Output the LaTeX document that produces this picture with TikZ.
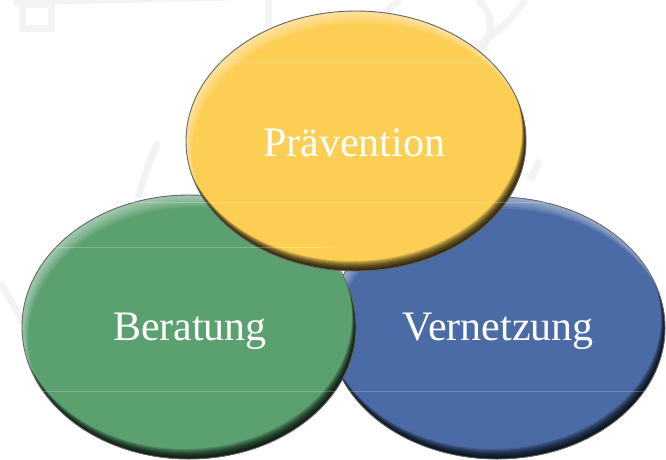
\documentclass[tikz,border=0pt]{standalone}
\usepackage{fontspec}
\setmainfont{Liberation Serif}
\usetikzlibrary{shapes.geometric}
\definecolor{ylw}{RGB}{252,207,84}
\definecolor{grn}{RGB}{91,160,111}
\definecolor{blu}{RGB}{74,107,165}
\definecolor{wm}{RGB}{243,243,243}
\tikzset{
  bubble/.style n args={3}{ellipse, inner sep=0pt, outer sep=0pt,
    minimum width=2*#2, minimum height=2*#3, fill=#1,
    draw=black!60, line width=0.9pt,
    path picture={
      \foreach \s in {1,2,...,10}{
        \fill[black,opacity=0.15,even odd rule]
          (path picture bounding box.south west) rectangle (path picture bounding box.north east)
          ([shift={(-0.4*\s,-\s)}]path picture bounding box.center) ellipse [x radius=#2, y radius=#3];
      }
      \foreach \s in {2,4,...,12}{
        \fill[white,opacity=0.09,even odd rule]
          (path picture bounding box.south west) rectangle (path picture bounding box.north east)
          ([shift={(0.5*\s,\s)}]path picture bounding box.center) ellipse [x radius=#2, y radius=#3];
      }
    }},
  label text/.style={text=white, font=\fontsize{42}{50}\selectfont, anchor=base, inner sep=0pt},
  watermark/.style={draw=wm, line width=7pt},
  sheen/.style={draw=white, opacity=0.22, line width=0.8pt}
}
\begin{document}
\begin{tikzpicture}[x=1pt,y=-1pt]
  \clip (0,0) rectangle (666,459);
  \useasboundingbox (0,0) rectangle (666,459);
  % faint watermark
  \draw[watermark] (14,2) -- (230,-3);
  \draw[watermark] (22,4) rectangle (51,28);
  \draw[watermark] (268,-5) -- (268,26);
  \draw[watermark] (400,0) -- (365,28);
  \draw[watermark] (478,0) .. controls (500,20) and (490,45) .. (470,60);
  \draw[watermark] (525,0) .. controls (505,30) and (480,45) .. (462,52);
  \draw[watermark] (158,142) .. controls (150,160) and (143,180) .. (138,198);
  \draw[watermark] (0,282) -- (28,330);
  \draw[watermark] (540,160) -- (530,180);
  % ellipses
  \node[bubble={blu}{168pt}{131pt}] (vern) at (497,328) {};
  \node[bubble={grn}{167pt}{132pt}] (bera) at (189,327) {};
  \node[bubble={ylw}{170pt}{130pt}] (prae) at (356,141) {};
  % faint horizontal lines
  \draw[sheen] (prae.west |- 0,62) -- (prae.east |- 0,62);
  \draw[sheen] (0,202) -- (666,202);
  \draw[sheen] (bera.west |- 0,247) -- (330,247);
  \draw[sheen] (0,391) -- (666,391);
  % labels
  \node[label text] (t1) at (354,156) {Prävention};
  \node[label text] (t2) at (190,340) {Beratung};
  \node[label text] (t3) at (498,340) {Vernetzung};
\end{tikzpicture}
\end{document}
